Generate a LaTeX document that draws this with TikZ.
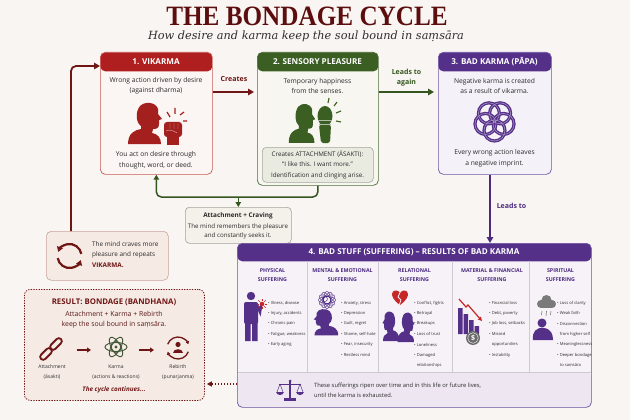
\documentclass[tikz,border=0pt]{standalone}
\usepackage{fontspec}
\setmainfont{Open Sans}
\newfontfamily\notof{Noto Sans}
\newfontfamily\titlefont{Liberation Serif}
\newfontfamily\subfont{DejaVu Serif}
\newcommand{\mdot}{{\notof ṃ}}
\usetikzlibrary{arrows.meta}
\definecolor{bgc}{HTML}{F8F5F2}
\definecolor{redhead}{HTML}{B01F1F}
\definecolor{darkred}{HTML}{6E1515}
\definecolor{titlered}{HTML}{5C0E0E}
\definecolor{subc}{HTML}{2E2E2E}
\definecolor{greenhead}{HTML}{3B5E23}
\definecolor{greenline}{HTML}{36561F}
\definecolor{purplehead}{HTML}{553089}
\definecolor{purpleline}{HTML}{4B2A80}
\definecolor{textc}{HTML}{2B2B2B}
\definecolor{b1fill}{HTML}{FBF5F3}
\definecolor{b1border}{HTML}{C85A55}
\definecolor{b2fill}{HTML}{F7F6F1}
\definecolor{b2border}{HTML}{4F6B3A}
\definecolor{innerfill}{HTML}{E9EBE0}
\definecolor{innerborder}{HTML}{A5A89C}
\definecolor{b3fill}{HTML}{F5F1F8}
\definecolor{b3border}{HTML}{7157A3}
\definecolor{b4fill}{HTML}{F6F2F7}
\definecolor{b4border}{HTML}{6B51A0}
\definecolor{bandfill}{HTML}{EEE6F1}
\definecolor{colline}{HTML}{CFC8D3}
\definecolor{attfill}{HTML}{F4F1EA}
\definecolor{attborder}{HTML}{A6A39A}
\definecolor{pinkfill}{HTML}{F6EAE4}
\definecolor{pinkborder}{HTML}{C9A39B}
\definecolor{iconred}{HTML}{A3201F}
\definecolor{heartred}{HTML}{C62828}
\definecolor{coingray}{HTML}{6B6B6B}
\definecolor{cloudgray}{HTML}{7A7A7A}
\definecolor{atomgreen}{HTML}{3E5636}
\definecolor{resc}{HTML}{5A1A1A}
\tikzset{
  card/.style={draw, rounded corners=5pt, inner sep=0pt, anchor=north west, line width=0.7pt},
  hdr/.style 2 args={path picture={\fill[#1] (path picture bounding box.north west) rectangle ([yshift=-#2]path picture bounding box.north east);}},
  headtxt/.style={text=white, font=\bfseries\fontsize{8.1}{9}\selectfont, inner sep=0pt},
  body/.style={text=textc, font=\fontsize{6.7}{10.5}\selectfont, inner sep=0pt, align=center},
  small/.style={text=textc, font=\fontsize{6.3}{10.8}\selectfont, inner sep=0pt, align=center},
  colhead/.style={text=purpleline, font=\bfseries\fontsize{5.3}{8.3}\selectfont, inner sep=0pt, align=center},
  item/.style={text=textc, font=\fontsize{4.1}{5}\selectfont, inner sep=0pt, anchor=west},
  lbl/.style={font=\bfseries\fontsize{7}{10}\selectfont, inner sep=0pt, align=center},
  conn/.style={line width=1.6pt, rounded corners=5pt, -{Triangle[length=6pt,width=6.5pt]}},
  sconn/.style={line width=1.5pt, rounded corners=5pt, -{Triangle[length=5pt,width=5.5pt]}},
  profile/.pic={\fill (-17,21) .. controls (-17,10) and (-10,7) .. (-4,6) -- (-4,3) .. controls (-9,0) and (-10,-11) .. (-5,-17) .. controls (0,-22) and (11,-21) .. (13,-14) -- (13,-9) -- (17,-4) -- (14,-3) -- (14,1) .. controls (14,5) and (12,6) .. (8,6) -- (7,10) .. controls (13,11) and (16,15) .. (16,21) -- cycle;}
}
\begin{document}
\begin{tikzpicture}[x=1pt,y=-1pt]
\fill[bgc] (0,0) rectangle (630,420);
\useasboundingbox (0,0) rectangle (630,420);

% Title
\node[inner sep=0pt, text=titlered, font=\titlefont\bfseries\fontsize{28}{30}\selectfont] (title) at (307,16.7) {\scalebox{0.9}[1]{THE BONDAGE CYCLE}};
\node[inner sep=0pt, text=subc, font=\subfont\itshape\fontsize{11.3}{13}\selectfont] (subtitle) at (306,36.5) {How desire and karma keep the soul bound in saṃsāra};

% Box 1
\node[card, draw=b1border, fill=b1fill, hdr={redhead}{19pt}, minimum width=112pt, minimum height=122pt] (b1) at (100,52) {};
\node[headtxt] (b1h) at (156,61.5) {1. VIKARMA};
\node[body] (b1a) at (156,86) {Wrong action driven by desire\\(against dharma)};
\node[body] (b1b) at (156,160.5) {You act on desire through\\thought, word, or deed.};
\pic[color=iconred] at (145,123) {profile};
\fill[iconred, rounded corners=3pt] (164,122) rectangle (182,137);
\fill[iconred] (167,135) rectangle (179,145);
\draw[white!65!iconred, line width=0.4pt] (170,123) -- (170,129) (174,123) -- (174,129) (178,123) -- (178,129) (166,131) .. controls (170,129) and (174,131) .. (177,133);
\draw[iconred, line width=1.2pt] (167,112) -- (170,117) (175,108) -- (175,114) (180,115) -- (184,112) (183,121) -- (187,121);

% Box 2
\node[card, draw=b2border, fill=b2fill, hdr={greenhead}{19pt}, minimum width=121pt, minimum height=133pt] (b2) at (257,52) {};
\node[headtxt] (b2h) at (317.5,61.5) {2. SENSORY PLEASURE};
\node[body] (b2a) at (317.5,86) {Temporary happiness\\from the senses.};
\pic[color=greenhead, xscale=0.78, yscale=0.95] at (302,123) {profile};
\fill[greenhead] (325,116) ellipse[x radius=7.5, y radius=10];
\fill[greenhead, rounded corners=2pt] (319,125) -- (331,125) -- (330,143) -- (321,143) -- cycle;
\draw[white!60!greenhead, line width=0.4pt] (318,120) -- (332,120) (319,124) -- (331,124);
\draw[greenhead, line width=1.1pt] (328,103) -- (329,98) (334,106) -- (337,102) (336,113) -- (341,111) (336,121) -- (341,122);
\node[draw=innerborder, fill=innerfill, rounded corners=4pt, line width=0.6pt, minimum width=111pt, minimum height=35pt, inner sep=0pt, anchor=north west] (inner) at (262,147) {};
\node[small] (innert) at (317.5,165) {Creates ATTACHMENT (ĀSAKTI):\\“I like this. I want more.”\\Identification and clinging arise.};

% Box 3
\node[card, draw=b3border, fill=b3fill, hdr={purplehead}{19pt}, minimum width=113pt, minimum height=122pt] (b3) at (438,52) {};
\node[headtxt] (b3h) at (494.5,61.5) {3. BAD KARMA (PĀPA)};
\node[body] (b3a) at (494.5,86) {Negative karma is created\\as a result of vikarma.};
\node[body] (b3b) at (494.5,158.5) {Every wrong action leaves\\a negative imprint.};
\foreach \a in {90,162,234,306,18} {
  \draw[purplehead, line width=3.2pt] (494.5,121) ++(\a:9.5) circle (10.5);
}
\foreach \a in {90,162,234,306,18} {
  \draw[b3fill!55!purplehead, line width=0.5pt] (494.5,121) ++(\a:9.5) circle (10.5);
}

% Connectors top row
\draw[conn, darkred, shorten >=3pt] (b1.east |- 0,92) -- (b2.west |- 0,92);
\node[lbl, text=darkred] (lcreates) at (234,79) {Creates};
\draw[conn, greenline, shorten >=4pt] (b2.east |- 0,92) -- (b3.west |- 0,92);
\node[lbl, text=greenline] (lleads) at (406.5,77.5) {Leads to\\again};

% Attachment + craving
\node[draw=attborder, fill=attfill, rounded corners=4pt, line width=0.6pt, minimum width=106pt, minimum height=36pt, inner sep=0pt, anchor=north west] (att) at (185,207) {};
\node[inner sep=0pt, text=textc, font=\bfseries\fontsize{6.4}{8}\selectfont] (atth) at (238,216) {Attachment + Craving};
\node[inner sep=0pt, text=textc, font=\fontsize{6.2}{9.5}\selectfont, align=center] (attt) at (238,231.5) {The mind remembers the pleasure\\and constantly seeks it.};
\draw[sconn, greenline] (b2.south) -- (b2.south |- 0,197) -| (b1.south);
\draw[sconn, greenline] (att.north |- 0,197) -- (att.north);

% Mind craves box
\node[draw=pinkborder, fill=pinkfill, rounded corners=5pt, line width=0.6pt, minimum width=122pt, minimum height=49pt, inner sep=0pt, anchor=north west] (mind) at (46,231) {};
\node[inner sep=0pt, anchor=west, align=left, text=textc, font=\fontsize{6.4}{10.5}\selectfont] (mindt) at (92,254.5) {The mind craves more\\pleasure and repeats\\\textcolor{darkred}{\bfseries VIKARMA.}};
\draw[darkred, line width=2.2pt, -{Triangle[length=5pt,width=6pt]}] (69.5,256) ++(170:12) arc[start angle=170, end angle=20, radius=12];
\draw[darkred, line width=2.2pt, -{Triangle[length=5pt,width=6pt]}] (69.5,256) ++(-10:12) arc[start angle=-10, end angle=-160, radius=12];
\draw[conn, darkred, line width=1.8pt] (mind.north -| 71,0) |- (b1.west |- 0,66);

% Box 4
\node[card, draw=b4border, fill=b4fill, minimum width=354pt, minimum height=164pt,
  path picture={\fill[purplehead] (path picture bounding box.north west) rectangle ([yshift=-18pt]path picture bounding box.north east);
  \fill[bandfill] ([yshift=35pt]path picture bounding box.south west) rectangle (path picture bounding box.south east);
  \draw[colline, line width=0.7pt] ([yshift=35pt]path picture bounding box.south west) -- ([yshift=35pt]path picture bounding box.south east);}] (b4) at (237,243) {};
\node[headtxt] (b4h) at (414,252) {4. BAD STUFF (SUFFERING) – RESULTS OF BAD KARMA};
\draw[conn, purpleline] (b3.south -| 490,0) -- (b4.north -| 490,0);
\node[lbl, text=purpleline] (lleads2) at (511.5,206) {Leads to};
\foreach \x in {307,378,452,529} \draw[colline, line width=0.7pt] (\x,261) -- (\x,372);
\node[colhead] (ch1) at (272.5,275) {PHYSICAL\\SUFFERING};
\node[colhead] (ch2) at (342.5,275) {MENTAL \& EMOTIONAL\\SUFFERING};
\node[colhead] (ch3) at (414.5,275) {RELATIONAL\\SUFFERING};
\node[colhead] (ch4) at (492,275) {MATERIAL \& FINANCIAL\\SUFFERING};
\node[colhead] (ch5) at (560.5,275) {SPIRITUAL\\SUFFERING};

\foreach \yy/\itm [count=\i] in {303/{• Illness, disease},313.4/{• Injury, accidents},323.8/{• Chronic pain},334.2/{• Fatigue, weakness},344.6/{• Early aging}}
  \node[item] (pa\i) at (268,\yy) {\itm};
\foreach \yy/\itm [count=\i] in {303/{• Anxiety, stress},313.4/{• Depression},323.8/{• Guilt, regret},334.2/{• Shame, self-hate},344.6/{• Fear, insecurity},355/{• Restless mind}}
  \node[item] (pb\i) at (341,\yy) {\itm};
\foreach \yy/\itm [count=\i] in {303/{• Conflict, fights},313.4/{• Betrayal},323.8/{• Breakups},334.2/{• Loss of trust},344.6/{• Loneliness},355/{• Damaged},365/{\hphantom{•} relationships}}
  \node[item] (pc\i) at (414,\yy) {\itm};
\foreach \yy/\itm [count=\i] in {303/{• Financial loss},313.4/{• Debt, poverty},323.8/{• Job loss, setbacks},334.2/{• Missed},344.6/{\hphantom{•} opportunities},355/{• Instability}}
  \node[item] (pd\i) at (489,\yy) {\itm};
\foreach \yy/\itm [count=\i] in {303/{• Loss of clarity},313.4/{• Weak faith},323.8/{• Disconnection},334.2/{\hphantom{•} from higher self},344.6/{• Meaninglessness},355/{• Deeper bondage},365/{\hphantom{•} to sa\mdot sāra}}
  \node[item] (pe\i) at (557,\yy) {\itm};

% col1 icon
\fill[purplehead] (251,296) circle (4.2);
\fill[purplehead, rounded corners=2pt] (244,302) rectangle (258,324);
\fill[purplehead] (245,322) rectangle (250.5,341) (252,322) rectangle (257.5,341);
\draw[purplehead, line width=2.6pt, line cap=round] (257,305) -- (260,312) -- (261,306);
\fill[heartred] (262,304) circle (2.3);
\foreach \a in {0,45,...,315} \draw[heartred, line width=0.7pt] (262,304) ++(\a:3) -- ++(\a:2.2);
% col2 icon
\foreach \a in {0,30,...,150} \draw[purpleline, line width=0.45pt, rotate around={\a:(327,300)}] (327,300) ellipse[x radius=8.5, y radius=3.5];
\draw[purpleline, line width=0.45pt] (327,300) circle (4) (325,299) circle (2.5);
\pic[color=purplehead, xscale=-0.72, yscale=0.64] at (326,322) {profile};
% col3 icon
\fill[heartred] (400,305) .. controls (393,300) and (392,296) .. (392,294) .. controls (392,290) and (398,289) .. (400,293) .. controls (402,289) and (408,290) .. (408,294) .. controls (408,296) and (407,300) .. (400,305) -- cycle;
\draw[b4fill, line width=0.8pt] (400,292.5) -- (398,297) -- (401,300) -- (399,305.5);
\pic[color=purplehead, xscale=-0.5, yscale=0.72] at (391,326) {profile};
\pic[color=purplehead, xscale=0.5, yscale=0.72] at (406,327) {profile};
% col4 icon
\fill[purplehead] (458,308) rectangle (462.5,334) (463.5,314) rectangle (468,334) (469,320) rectangle (473.5,334) (474.5,326) rectangle (479,334);
\draw[heartred, line width=1.2pt, -{Triangle[length=4pt,width=4pt]}] (459,299) -- (466,307) -- (468,305) -- (482,321);
\fill[coingray] (473,338) circle (7);
\draw[white, line width=0.4pt] (473,338) circle (5.3);
\node[inner sep=0pt, text=white, font=\bfseries\fontsize{7}{7}\selectfont] (coin) at (473,338) {\$};
% col5 icon
\fill[cloudgray] (541,304) circle (4) (546.5,300) circle (5) (552,304) circle (4);
\fill[cloudgray] (541,304) rectangle (552,308);
\draw[cloudgray, line width=0.6pt] (542,311) -- (541.5,315) (546.5,311) -- (546,316) (551,311) -- (550.5,315);
\fill[purplehead] (533,340) .. controls (532,332) and (536,327) .. (544,328) .. controls (551,329) and (553,334) .. (553,340) -- cycle;
\fill[purplehead] (542,323) circle (4.5);

% bottom band
\draw[purplehead, line width=1.2pt] (290,381) -- (290,399);
\fill[purplehead] (284,398) rectangle (296,401);
\draw[purplehead, line width=1pt] (279,384) -- (301,384);
\fill[purplehead] (290,381) circle (1.5);
\draw[purplehead, line width=0.5pt] (280,384) -- (277,392) (280,384) -- (283,392) (300,384) -- (297,392) (300,384) -- (303,392);
\fill[purplehead] (276,392) -- (284,392) .. controls (283,396) and (277,396) .. cycle;
\fill[purplehead] (296,392) -- (304,392) .. controls (303,396) and (297,396) .. cycle;
\node[inner sep=0pt, anchor=west, align=left, text=textc, font=\fontsize{5.8}{10}\selectfont] (bandt) at (314,390) {These sufferings ripen over time and in this life or future lives,\\until the karma is exhausted.};

% Result box
\node[draw=darkred, fill=pinkfill, rounded corners=6pt, line width=0.8pt, dash pattern=on 1.3pt off 1.3pt, minimum width=180pt, minimum height=111pt, inner sep=0pt, anchor=north west] (res) at (24,289) {};
\node[inner sep=0pt, text=darkred, font=\bfseries\fontsize{7.8}{9}\selectfont] (rest) at (114,302) {RESULT: BONDAGE (BANDHANA)};
\node[inner sep=0pt, text=resc, font=\fontsize{6.9}{10}\selectfont, align=center] (resa) at (114,320) {Attachment + Karma + Rebirth\\keep the soul bound in sa\mdot sāra.};
\draw[darkred, line width=1.8pt, rounded corners=3pt, rotate around={45:(46,354)}] (39,351) rectangle (53,357);
\draw[darkred, line width=1.8pt, rounded corners=3pt, rotate around={45:(56,344)}] (49,341) rectangle (63,347);
\foreach \a in {0,60,120} \draw[atomgreen, line width=0.9pt, rotate around={\a:(116,347)}] (116,347) ellipse[x radius=11, y radius=4.5];
\draw[atomgreen, line width=0.8pt] (116,347) circle (5.5);
\fill[atomgreen] (116,347) circle (1.6);
\draw[darkred, line width=1.3pt, -{Triangle[length=3pt,width=3.5pt]}] (178,348) ++(200:11) arc[start angle=200, end angle=340, radius=11];
\draw[darkred, line width=1.3pt, -{Triangle[length=3pt,width=3.5pt]}] (178,348) ++(20:11) arc[start angle=20, end angle=160, radius=11];
\fill[darkred] (178,344.5) circle (2.6);
\fill[darkred] (173,353) .. controls (173,347.5) and (183,347.5) .. (183,353) -- cycle;
\coordinate (ra1) at (77,350);
\coordinate (ra2) at (91,350);
\coordinate (ra3) at (139,350);
\coordinate (ra4) at (154,350);
\draw[darkred, line width=1.8pt, -{Triangle[length=4pt,width=5pt]}] (ra1) -- (ra2);
\draw[darkred, line width=1.8pt, -{Triangle[length=4pt,width=5pt]}] (ra3) -- (ra4);
\node[inner sep=0pt, text=textc, font=\fontsize{5}{10}\selectfont, align=center] (lab1) at (52,372) {Attachment\\(āsakti)};
\node[inner sep=0pt, text=textc, font=\fontsize{5}{10}\selectfont, align=center] (lab2) at (116,372) {Karma\\(actions \& reactions)};
\node[inner sep=0pt, text=textc, font=\fontsize{5}{10}\selectfont, align=center] (lab3) at (178,372) {Rebirth\\(punarjanma)};
\node[inner sep=0pt, text=darkred, font=\bfseries\itshape\fontsize{6.3}{8}\selectfont] (resc) at (114,390) {The cycle continues...};

% dotted arrow
\draw[darkred, line width=1.1pt, dash pattern=on 1.5pt off 1.5pt, -{Triangle[length=5pt,width=5pt]}, shorten >=2pt] (b4.west |- 0,384) -- (res.east |- 0,384);
\end{tikzpicture}
\end{document}
